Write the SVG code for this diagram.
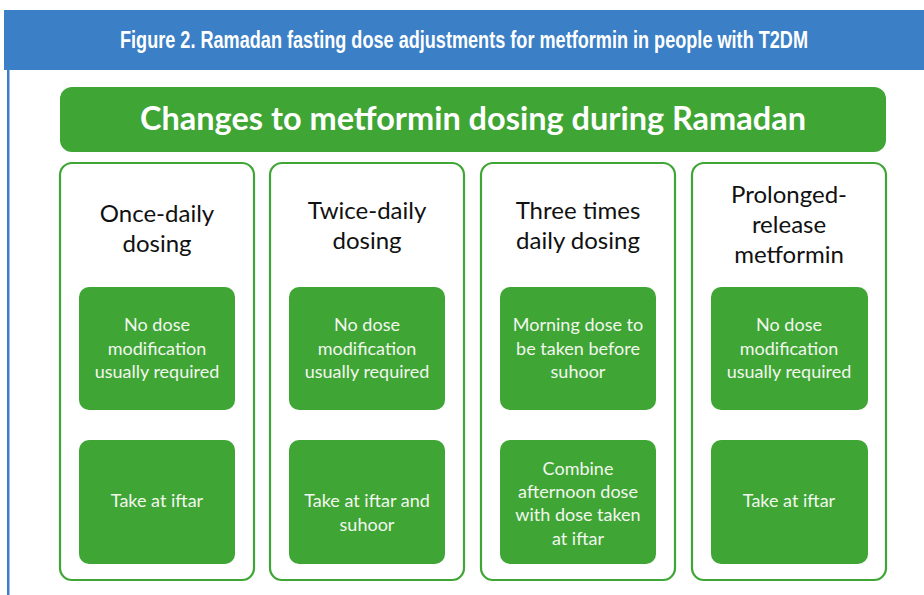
<svg xmlns="http://www.w3.org/2000/svg" width="924" height="595" viewBox="0 0 924 595">
<style>
.col{fill:#fff;stroke:#3fa535;stroke-width:2.2}
.box{fill:#3fa535}
.hd{font-family:Lato,"Open Sans",sans-serif;font-size:24px;fill:#111;text-anchor:middle}
.bt{font-family:Lato,"Open Sans",sans-serif;font-size:18px;fill:#f2f7ee;text-anchor:middle}
</style>
<rect x="0" y="0" width="924" height="595" fill="#fff"/>
<rect x="4" y="10" width="920" height="60" fill="#3b80c6"/>
<rect x="7" y="70" width="2.5" height="525" fill="#3b80c6"/>
<text x="464" y="48" font-family="Liberation Sans,Arial,sans-serif" font-weight="bold" font-size="24" fill="#fff" text-anchor="middle" textLength="688" lengthAdjust="spacingAndGlyphs">Figure 2. Ramadan fasting dose adjustments for metformin in people with T2DM</text>
<g id="banner">
<rect x="60" y="87" width="826" height="65" rx="12" fill="#3fa535"/>
<text x="473" y="130" font-family="Lato,Open Sans,sans-serif" font-weight="bold" font-size="32" fill="#fff" text-anchor="middle" textLength="666" lengthAdjust="spacingAndGlyphs">Changes to metformin dosing during Ramadan</text>
</g>
<g id="col1">
<rect class="col" x="60" y="163" width="194" height="417" rx="12"/>
<text class="hd" x="157" y="222">Once-daily</text>
<text class="hd" x="157" y="252">dosing</text>
</g>
<g id="col1a"><rect class="box" x="79" y="287" width="156" height="123" rx="10"/>
<text class="bt" x="157" y="331">No dose</text><text class="bt" x="157" y="355">modification</text><text class="bt" x="157" y="378">usually required</text></g>
<g id="col1b"><rect class="box" x="79" y="440" width="156" height="124" rx="10"/>
<text class="bt" x="157" y="507">Take at iftar</text></g>
<g id="col2">
<rect class="col" x="270" y="163" width="194" height="417" rx="12"/>
<text class="hd" x="367" y="219">Twice-daily</text>
<text class="hd" x="367" y="249">dosing</text>
</g>
<g id="col2a"><rect class="box" x="289" y="287" width="156" height="123" rx="10"/>
<text class="bt" x="367" y="331">No dose</text><text class="bt" x="367" y="355">modification</text><text class="bt" x="367" y="378">usually required</text></g>
<g id="col2b"><rect class="box" x="289" y="440" width="156" height="124" rx="10"/>
<text class="bt" x="367" y="507">Take at iftar and</text><text class="bt" x="367" y="531">suhoor</text></g>
<g id="col3">
<rect class="col" x="481" y="163" width="194" height="417" rx="12"/>
<text class="hd" x="578" y="219">Three times</text>
<text class="hd" x="578" y="249">daily dosing</text>
</g>
<g id="col3a"><rect class="box" x="500" y="287" width="156" height="123" rx="10"/>
<text class="bt" x="578" y="331">Morning dose to</text><text class="bt" x="578" y="355">be taken before</text><text class="bt" x="578" y="378">suhoor</text></g>
<g id="col3b"><rect class="box" x="500" y="440" width="156" height="124" rx="10"/>
<text class="bt" x="578" y="475">Combine</text><text class="bt" x="578" y="498">afternoon dose</text><text class="bt" x="578" y="521">with dose taken</text><text class="bt" x="578" y="545">at iftar</text></g>
<g id="col4">
<rect class="col" x="692" y="163" width="194" height="417" rx="12"/>
<text class="hd" x="789" y="203">Prolonged-</text>
<text class="hd" x="789" y="233">release</text>
<text class="hd" x="789" y="263">metformin</text>
</g>
<g id="col4a"><rect class="box" x="711" y="287" width="157" height="123" rx="10"/>
<text class="bt" x="789" y="331">No dose</text><text class="bt" x="789" y="355">modification</text><text class="bt" x="789" y="378">usually required</text></g>
<g id="col4b"><rect class="box" x="711" y="440" width="157" height="124" rx="10"/>
<text class="bt" x="789" y="507">Take at iftar</text></g>
<g id="connectors"/>
</svg>
